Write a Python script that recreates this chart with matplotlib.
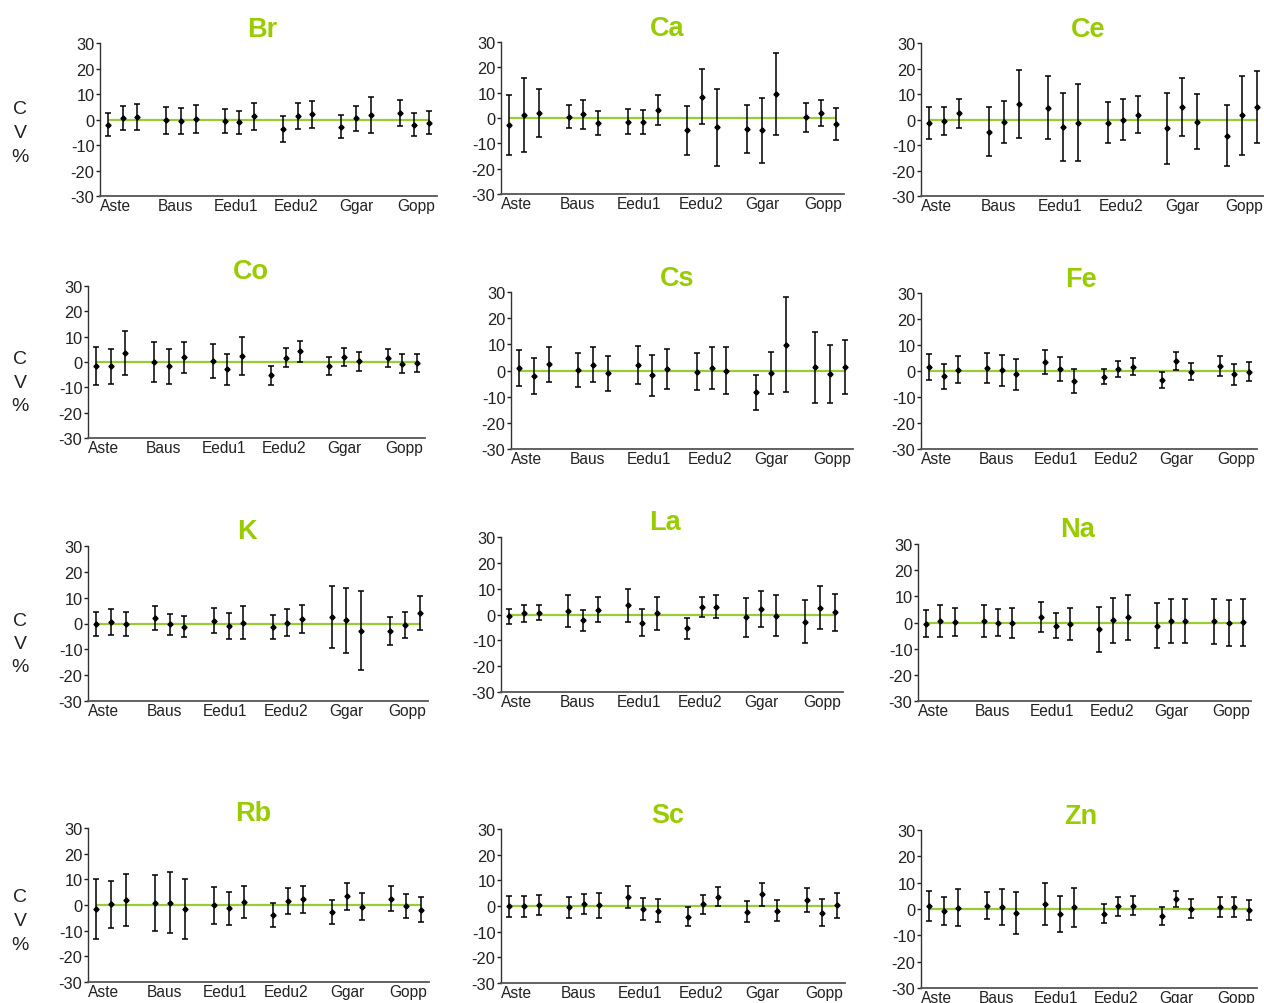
import matplotlib
matplotlib.use("Agg")
import matplotlib.pyplot as plt
import numpy as np

plt.rcParams['font.family'] = ['Liberation Sans', 'DejaVu Sans']

groups = ["Aste", "Baus", "Eedu1", "Eedu2", "Ggar", "Gopp"]
elements = ["Br", "Ca", "Ce", "Co", "Cs", "Fe", "K", "La", "Na", "Rb", "Sc", "Zn"]

br_mean = [-2.0, 0.6, 0.8, -0.3, -0.5, 0.3, -0.7, -1.0, 1.3, -3.8, 1.4, 2.0, -2.8, 0.4, 1.8, 2.6, -2.1, -1.2]
br_err  = [4.5, 4.8, 5.1, 5.2, 5.2, 5.5, 4.7, 4.5, 5.3, 5.0, 5.2, 5.2, 4.4, 4.8, 7.1, 5.0, 4.5, 4.5]
ca_mean = [-2.9, 1.2, 2.1, 0.5, 1.5, -2.0, -1.4, -1.6, 3.0, -4.9, 8.4, -3.6, -4.3, -4.9, 9.4, 0.2, 1.9, -2.3]
ca_err  = [11.8, 14.5, 9.5, 4.6, 5.7, 4.9, 4.8, 4.9, 5.9, 9.7, 10.8, 15.2, 9.4, 12.8, 16.3, 5.8, 5.2, 6.2]
ce_mean = [-1.4, -0.6, 2.4, -4.8, -1.1, 6.0, 4.7, -3.0, -1.2, -1.2, -0.1, 1.9, -3.5, 4.9, -0.9, -6.3, 1.6, 4.9]
ce_err  = [6.2, 5.4, 5.6, 9.6, 8.2, 13.3, 12.3, 13.3, 15.0, 8.0, 8.1, 7.3, 13.8, 11.2, 10.8, 12.1, 15.5, 14.2]
co_mean = [-1.5, -1.7, 3.6, 0.0, -1.7, 1.8, 0.5, -2.8, 2.5, -5.3, 1.7, 4.2, -1.6, 2.0, 0.2, 1.5, -0.6, -0.3]
co_err  = [7.5, 7.0, 8.6, 7.8, 7.0, 6.2, 6.8, 6.1, 7.5, 3.6, 3.8, 4.2, 3.7, 3.6, 3.6, 3.6, 3.6, 3.6]
cs_mean = [0.9, -2.1, 2.4, 0.2, 2.2, -1.1, 2.2, -1.8, 0.6, -0.4, 1.0, 0.0, -8.4, -0.8, 9.9, 1.2, -1.4, 1.4]
cs_err  = [6.9, 6.7, 6.7, 6.6, 6.6, 6.6, 7.2, 7.8, 7.6, 7.1, 7.9, 8.9, 6.7, 8.0, 18.2, 13.5, 11.0, 10.2]
fe_mean = [1.6, -2.0, 0.5, 1.2, 0.2, -1.3, 3.4, 0.8, -4.0, -2.2, 0.8, 1.7, -3.5, 4.0, -0.2, 1.9, -1.2, -0.2]
fe_err  = [5.0, 4.8, 5.3, 5.9, 5.8, 6.1, 4.7, 4.5, 4.6, 2.8, 3.2, 3.2, 3.1, 3.5, 3.1, 3.9, 4.0, 3.5]
k_mean  = [-0.2, 0.7, -0.1, 2.0, -0.3, -1.2, 1.1, -1.0, 0.3, -1.3, 0.3, 1.7, 2.4, 1.2, -2.8, -2.9, -0.5, 4.0]
k_err   = [4.7, 5.0, 4.6, 4.6, 4.1, 4.2, 4.9, 5.0, 6.3, 4.7, 5.3, 5.4, 12.0, 12.6, 15.3, 5.3, 5.0, 6.5]
la_mean = [-0.7, 0.5, 0.7, 1.2, -2.2, 1.9, 3.5, -3.1, 0.5, -5.3, 3.0, 3.0, -1.1, 2.0, -0.4, -2.8, 2.6, 0.9]
la_err  = [2.8, 3.3, 3.0, 6.2, 4.1, 4.9, 6.5, 5.4, 6.4, 4.1, 3.9, 4.4, 7.5, 7.0, 8.1, 8.4, 8.4, 7.2]
na_mean = [-0.4, 0.7, 0.3, 0.7, 0.0, -0.3, 2.1, -1.2, -0.7, -2.6, 0.8, 2.1, -1.2, 0.6, 0.6, 0.4, -0.1, 0.1]
na_err  = [5.0, 6.1, 5.4, 6.1, 5.0, 5.7, 5.8, 4.7, 6.1, 8.5, 8.7, 8.6, 8.5, 8.5, 8.5, 8.7, 8.8, 9.0]
rb_mean = [-1.7, 0.2, 2.0, 0.8, 0.9, -1.5, -0.1, -1.3, 1.1, -3.9, 1.6, 2.2, -2.8, 3.4, -0.6, 2.5, -0.5, -1.9]
rb_err  = [11.7, 9.2, 10.2, 10.8, 12.0, 11.7, 7.2, 6.5, 6.3, 4.5, 5.0, 5.2, 4.7, 5.3, 5.1, 5.0, 4.7, 4.9]
sc_mean = [-0.1, -0.1, 0.4, -0.5, 0.8, 0.2, 3.4, -1.2, -1.9, -4.1, 0.6, 3.7, -2.3, 4.5, -1.8, 2.4, -2.6, 0.2]
sc_err  = [4.0, 4.1, 4.0, 4.0, 4.0, 4.7, 4.2, 4.4, 4.5, 3.7, 3.7, 3.8, 4.1, 4.5, 4.0, 4.7, 5.2, 4.7]
zn_mean = [1.3, -0.6, 0.5, 1.3, 0.8, -1.4, 1.9, -1.8, 0.7, -1.8, 1.0, 1.3, -2.8, 3.8, 0.1, 0.7, 0.7, -0.4]
zn_err  = [5.7, 5.3, 7.1, 5.2, 6.8, 8.0, 8.0, 6.8, 7.4, 3.6, 3.5, 3.6, 3.4, 3.2, 3.6, 3.7, 3.7, 3.8]

means = [br_mean, ca_mean, ce_mean, co_mean, cs_mean, fe_mean,
         k_mean, la_mean, na_mean, rb_mean, sc_mean, zn_mean]
errs = [br_err, ca_err, ce_err, co_err, cs_err, fe_err,
        k_err, la_err, na_err, rb_err, sc_err, zn_err]

W, H = 1264, 1004
fig = plt.figure(figsize=(W / 100, H / 100), dpi=100)

# axes boxes in pixels: left, right, top, bottom
boxes = [
    (100, 437, 44, 197), (501, 844, 43, 195), (921, 1265, 44, 197),
    (88, 425, 287, 439), (511, 853, 293, 450), (921, 1257, 294, 450),
    (88, 428, 547, 702), (501, 843, 538, 693), (918, 1251, 545, 702),
    (88, 429, 829, 983), (501, 845, 830, 984), (921, 1257, 831, 989),
]
title_pos = [
    (262, 30), (667, 29), (1088, 30),
    (251, 272), (677, 279), (1081, 280),
    (247, 532), (665, 523), (1078, 530),
    (253, 814), (668, 816), (1081, 817),
]
ylab_rows = [(110, 133, 157), (360, 383, 407), (622, 645, 668), (898, 922, 946)]

title_color = "#99CC00"
line_color = "#99CC33"

x = np.array([g * 4 + k for g in range(len(groups)) for k in range(3)], dtype=float)
label_x = [0.5 + i * 4.13 for i in range(len(groups))]

for i, el in enumerate(elements):
    l, r, t, b = boxes[i]
    ax = fig.add_axes([l / W, 1 - b / H, (r - l) / W, (b - t) / H])
    ax.set_xlim(-0.55, 22.55)
    ax.set_ylim(-30, 30)
    ax.hlines(0, x[0], x[-1], color=line_color, lw=1.6, zorder=1)
    ax.errorbar(x, means[i], yerr=errs[i], fmt='D', color='black', ms=2.6,
                ecolor='black', elinewidth=1.1, capsize=2.2, capthick=1.1, zorder=3)
    ax.set_yticks([-30, -20, -10, 0, 10, 20, 30])
    ax.set_yticklabels(["-30", "-20", "-10", "0", "10", "20", "30"])
    ax.set_xticks(label_x)
    ax.set_xticklabels(groups)
    ax.tick_params(axis='x', length=0, pad=1.5, labelsize=11.2, colors='#222222')
    ax.tick_params(axis='y', length=3, width=1, pad=1, labelsize=11.8,
                   colors='#222222', direction='out')
    for s in ['top', 'right']:
        ax.spines[s].set_visible(False)
    ax.spines['left'].set_color('#333333')
    ax.spines['bottom'].set_color('#555555')
    ax.spines['left'].set_linewidth(1.0)
    ax.spines['bottom'].set_linewidth(1.3)
    ax.set_facecolor('none')
    tx, ty = title_pos[i]
    fig.text(tx / W, 1 - ty / H, el, ha='center', va='center', fontsize=19.5,
             fontweight='bold', color=title_color)

for row in ylab_rows:
    for ch, yy in zip(["C", "V", "%"], row):
        fig.text(20 / W, 1 - yy / H, ch, ha='center', va='center', fontsize=14,
                 color='#222222')

fig.savefig("out.png", dpi=100)
